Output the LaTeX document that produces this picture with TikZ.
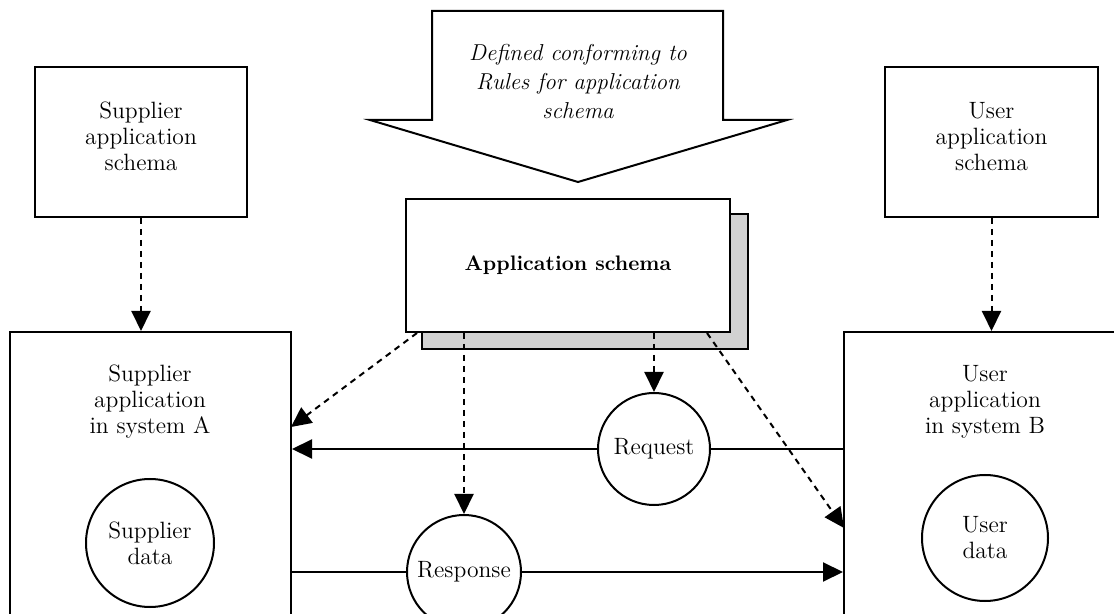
\documentclass[tikz,border=0pt]{standalone}
\usepackage{tikz}
\usetikzlibrary{arrows.meta}
\usetikzlibrary{calc}
\newcommand{\lbl}{\fontsize{11.8}{13}\selectfont}
\tikzset{
	box/.style={draw,line width=1pt,align=center,font=\lbl,inner sep=0pt},
	blob/.style={draw,circle,line width=1pt,align=center,font=\lbl,inner sep=0pt,fill=white},
	flow/.style={line width=1pt,-{Triangle[length=10pt,width=9.5pt]}},
	dep/.style={flow,dash pattern=on 3pt off 2.5pt},
}

\begin{document}
\begin{tikzpicture}[x=0.5pt,y=-0.5pt]
				\useasboundingbox (0,0) rectangle (1114,614);
				\clip (0,0) rectangle (1114,614);
				% the two systems, open at the bottom
				\node[box,minimum width=140.5pt,minimum height=184pt] (sysA) at (150.5,516) {};
				\node[box,minimum width=148pt,minimum height=184pt] (sysB) at (992,516) {};
				\node[align=center,font=\lbl] (sysAtxt) at (150,402) {Supplier\\application\\in system A};
				\node[align=center,font=\lbl] (sysBtxt) at (985,402) {User\\application\\in system B};
				\node[blob,minimum size=64pt] (supD) at (150,543) {Supplier\\data};
				\node[blob,minimum size=63pt] (userD) at (985,538) {User\\data};
				% local schemas
				\node[box,minimum width=106pt,minimum height=75pt] (supS) at (141,142) {Supplier\\application\\schema\\[-7pt]};
				\node[box,minimum width=106.5pt,minimum height=75pt] (userS) at (991.5,142) {User\\application\\schema\\[-7pt]};
				% common schema with its shadow
				\node[box,fill=black!18,minimum width=163pt,minimum height=67.5pt] (shadow) at (585,281.5) {};
				\node[box,fill=white,minimum width=162pt,minimum height=66.5pt,font=\fontsize{10.5}{12}\selectfont\bfseries] (app) at (568,265.5) {Application schema};
				% block arrow on top
				\draw[line width=1pt] (432,11) -- (723,11) -- (723,120) -- (787,120) -- (578,182)
					-- (370,120) -- (432,120) -- cycle;
				\node[align=center,font=\fontsize{11.5}{14.5}\selectfont\itshape] (rules) at (578,82)
					{Defined conforming to\\Rules for application\\schema};
				% messages
				\node[blob,minimum size=56pt] (req) at (654,449) {Request};
				\node[blob,minimum size=57pt] (resp) at (464,572) {Response};
				\draw[line width=1pt] (sysB.west |- req.east) -- (req.east);
				\draw[flow] (req.west) -- (sysA.east |- req.west);
				\draw[line width=1pt] (sysA.east |- resp.west) -- (resp.west);
				\draw[flow] (resp.east) -- (sysB.west |- resp.east);
				% dependencies
				\coordinate (inA) at (291,427);
				\coordinate (inB) at (844,528);
				\draw[dep] (supS.south) -- (supS.south |- sysA.north);
				\draw[dep] (userS.south) -- (userS.south |- sysB.north);
				\draw[dep] ($(app.south west)+(12,0)$) -- (inA);
				\draw[dep] ($(app.south east)+(-24,0)$) -- (inB);
				\draw[dep] (app.south -| resp.north) -- (resp.north);
				\draw[dep] (app.south -| req.north) -- (req.north);
			\end{tikzpicture}
\end{document}
